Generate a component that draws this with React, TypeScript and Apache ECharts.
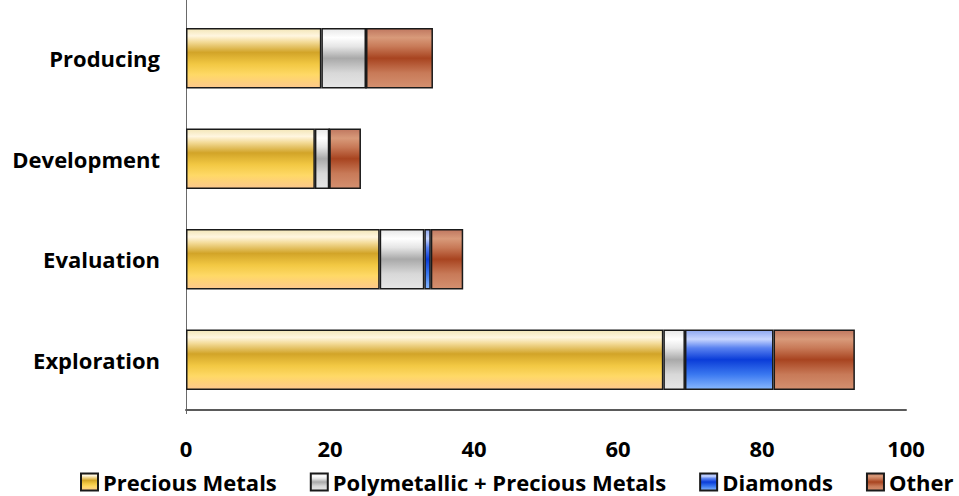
import React, { useEffect, useRef } from "react";
import * as echarts from "echarts";

const categories = ["Exploration", "Evaluation", "Development", "Producing"];
const seriesNames = ["Precious Metals", "Polymetallic + Precious Metals", "Diamonds", "Other"];
const preciousMetals = [66.3, 26.9, 17.9, 18.8];
const polymetallic = [3.0, 6.2, 2.0, 6.2];
const diamonds = [12.3, 0.9, 0, 0];
const other = [11.3, 4.5, 4.4, 9.3];
const xTicks = [0, 20, 40, 60, 80, 100];

const FONT = "Open Sans";

const grad = (stops: [number, string][]) =>
  new echarts.graphic.LinearGradient(0, 0, 0, 1, stops.map(([offset, color]) => ({ offset, color })));

const fills = [
  grad([[0, "#f3e6b8"], [0.12, "#fff6e0"], [0.22, "#f4dc9a"], [0.4, "#d2a428"], [0.6, "#f2c843"], [0.78, "#ffd966"], [1, "#fdc88c"]]),
  grad([[0, "#e8e8e8"], [0.15, "#ffffff"], [0.3, "#e6e6e6"], [0.5, "#a9a9a9"], [0.75, "#d8d8d8"], [1, "#e6e6e6"]]),
  grad([[0, "#8fa8f0"], [0.15, "#c8d6ff"], [0.3, "#5a82f0"], [0.5, "#0a3cd8"], [0.75, "#3a78f0"], [1, "#88b8ff"]]),
  grad([[0, "#c07860"], [0.15, "#d89a7a"], [0.3, "#c87a58"], [0.5, "#a84420"], [0.75, "#c87a58"], [1, "#d49070"]]),
];

const dataSets = [preciousMetals, polymetallic, diamonds, other];

export default function App() {
  const ref = useRef<HTMLDivElement>(null);
  useEffect(() => {
    if (!ref.current) return;
    const chart = echarts.init(ref.current, undefined, { renderer: "svg" });
    chart.setOption({
      animation: false,
      textStyle: { fontFamily: FONT },
      grid: { left: 186, right: 53, top: 8, bottom: 86, containLabel: false },
      legend: {
        data: seriesNames,
        left: 80,
        top: 471,
        width: 879,
        padding: 0,
        itemWidth: 17,
        itemHeight: 17,
        itemGap: 33,
        icon: "rect",
        textStyle: { fontFamily: FONT, fontWeight: "bold", fontSize: 22, lineHeight: 22, color: "#000" },
      },
      xAxis: {
        type: "value",
        min: 0,
        max: 100,
        interval: 20,
        splitLine: { show: false },
        axisTick: { show: false },
        axisLine: { show: true, lineStyle: { color: "#5a5a5a", width: 2 } },
        axisLabel: {
          margin: 27,
          fontFamily: FONT,
          fontWeight: "bold",
          fontSize: 22,
          color: "#000",
          formatter: (v: number) => (xTicks.includes(v) ? String(v) : ""),
        },
      },
      yAxis: {
        type: "category",
        data: categories,
        axisTick: { show: false },
        axisLine: { show: true, lineStyle: { color: "#6a6a6a", width: 1 } },
        axisLabel: { margin: 26, fontFamily: FONT, fontWeight: "bold", fontSize: 22, color: "#000" },
      },
      series: seriesNames.map((name, i) => ({
        name,
        type: "bar",
        stack: "total",
        barWidth: "60%",
        data: dataSets[i],
        itemStyle: { color: fills[i], borderColor: "#1a1a1a", borderWidth: 1.5 },
      })),
      graphic: [
        { type: "line", shape: { x1: 186.5, y1: 0, x2: 186.5, y2: 8 }, style: { stroke: "#6a6a6a", lineWidth: 1 } },
        { type: "line", shape: { x1: 186.5, y1: 410, x2: 186.5, y2: 414 }, style: { stroke: "#6a6a6a", lineWidth: 1 } },
      ],
    });
    return () => chart.dispose();
  }, []);
  return <div ref={ref} style={{ position: "absolute", left: 0, top: 0, width: 959, height: 496 }} />;
}
